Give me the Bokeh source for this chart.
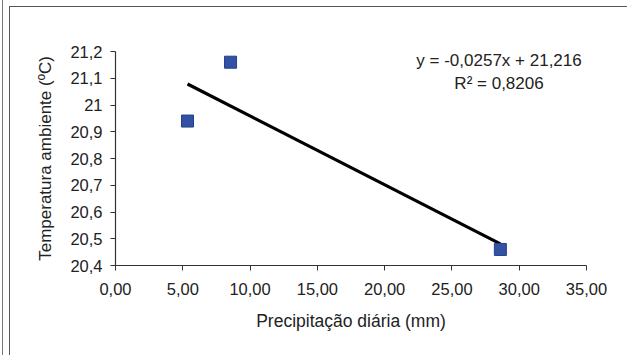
from bokeh.plotting import figure
from bokeh.models import Range1d, CustomJSTickFormatter, FixedTicker, Label
from bokeh.layouts import column
from bokeh.embed import file_html
from bokeh.resources import INLINE

# data
precip = [5.35, 8.55, 28.6]          # Precipitação diária (mm)
temp = [20.94, 21.16, 20.46]         # Temperatura ambiente (ºC)
slope = -0.0257
intercept = 21.216
r2 = 0.8206
x_ticks = [0, 5, 10, 15, 20, 25, 30, 35]
y_ticks = [20.4, 20.5, 20.6, 20.7, 20.8, 20.9, 21.0, 21.1, 21.2]

FONT = "Liberation Sans"
TXT = "#222222"

p = figure(width=618, height=349, output_backend="svg", toolbar_location=None,
           x_range=Range1d(0, 35), y_range=Range1d(20.4, 21.2),
           min_border_left=105, min_border_right=42, min_border_top=44, min_border_bottom=91)
p.outline_line_color = None
p.grid.visible = False
p.background_fill_color = "white"
p.border_fill_color = "white"

p.xaxis.ticker = FixedTicker(ticks=x_ticks)
p.yaxis.ticker = FixedTicker(ticks=y_ticks)
p.xaxis.formatter = CustomJSTickFormatter(code="return tick.toFixed(2).replace('.', ',');")
p.yaxis.formatter = CustomJSTickFormatter(code="return (Math.round(tick*10)/10).toString().replace('.', ',');")
for ax in (p.xaxis[0], p.yaxis[0]):
    ax.axis_line_color = "#333333"
    ax.axis_line_width = 1.2
    ax.major_tick_line_color = "#333333"
    ax.major_tick_out = 5
    ax.major_tick_in = 0
    ax.minor_tick_line_color = None
    ax.major_label_text_font = FONT
    ax.major_label_text_font_size = "16.5px"
    ax.major_label_text_color = TXT
    ax.axis_label_text_font = FONT
    ax.axis_label_text_font_size = "17px"
    ax.axis_label_text_font_style = "normal"
    ax.axis_label_text_color = TXT
p.xaxis.axis_label = "Precipitação diária (mm)"
p.yaxis.axis_label = "Temperatura ambiente (ºC)"
p.xaxis.axis_label_text_font_size = "17.5px"
p.xaxis.major_label_standoff = 12
p.xaxis.axis_label_standoff = 13
p.yaxis.major_label_standoff = 8
p.yaxis.axis_label_standoff = 12

# trend line
x0, x1 = min(precip), max(precip)
p.line([x0, x1], [slope * x0 + intercept, slope * x1 + intercept], line_color="black", line_width=3.2)

# points
p.scatter(precip, temp, marker="square", size=12, fill_color="#3352a4", line_color="#233f8c", line_width=1)

eq = "y = {}x + {}".format(("%.4f" % slope).replace(".", ","), ("%.3f" % intercept).replace(".", ","))
r2txt = "R² = {}".format(("%.4f" % r2).replace(".", ","))
for txt, yy in ((eq, 21.165), (r2txt, 21.079)):
    p.add_layout(Label(x=28.5, y=yy, text=txt, text_align="center", text_baseline="middle",
                       text_font=FONT, text_font_size="17px", text_color=TXT))

p.styles = {"border-top": "1.5px solid #555", "border-left": "1.5px solid #555", "margin-top": "6px"}
layout = column(p, styles={"border-left": "1.5px solid #777", "padding-left": "6px", "margin-left": "2px"})

open("out.html", "w").write(file_html(layout, INLINE))
